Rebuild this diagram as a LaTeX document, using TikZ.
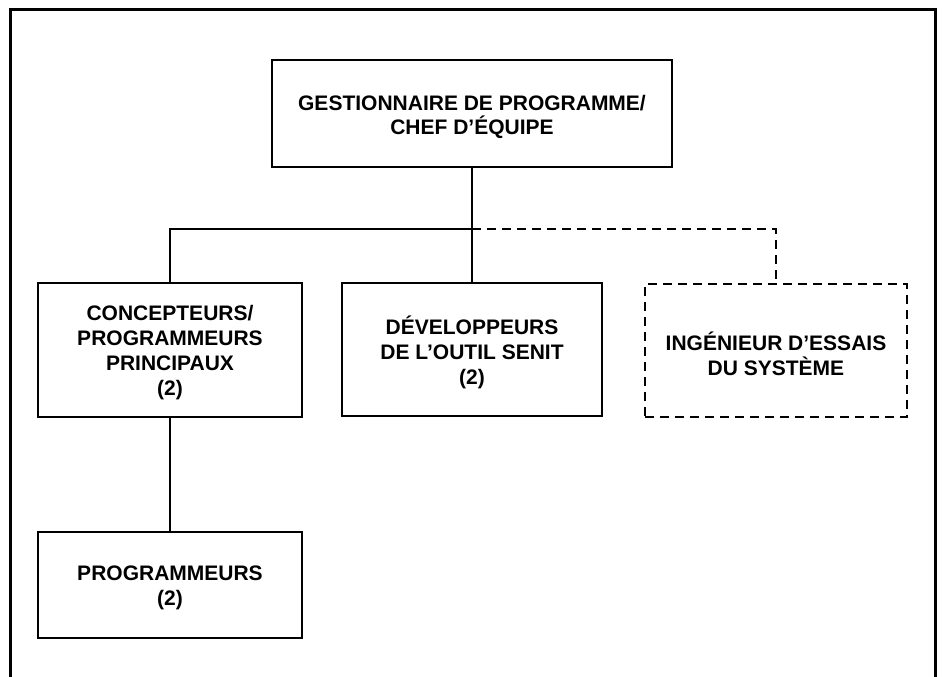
\documentclass[tikz,border=0pt]{standalone}
\usepackage{fontspec}
\setmainfont{Liberation Sans}
\begin{document}
\begin{tikzpicture}[x=1pt,y=-1pt,
  box/.style={draw, line width=1.8pt, inner sep=0pt},
  dbox/.style={box, dash pattern=on 9pt off 6pt},
  txt/.style={inner sep=0pt, align=center, yshift=-3pt,
    font=\fontsize{21}{25}\selectfont\bfseries},
  link/.style={line width=1.8pt},
  dlink/.style={line width=1.8pt, dash pattern=on 9pt off 6pt}]
\useasboundingbox (0,0) rectangle (942,677);
\fill[white] (0,0) rectangle (942,677);
% outer frame, open at the bottom
\draw[line width=3pt] (10,677) -- (10,10) -- (935,10) -- (935,677);
\node[box, minimum width=400pt, minimum height=107pt] (top) at (472,113.5) {};
\node[box, minimum width=264pt, minimum height=134pt] (lead) at (170,350) {};
\node[box, minimum width=260pt, minimum height=133pt] (dev) at (472,349.5) {};
\node[dbox, minimum width=262pt, minimum height=133pt] (test) at (776,350.5) {};
\node[box, minimum width=264pt, minimum height=106pt] (prog) at (170,585) {};
\node[txt, font=\fontsize{21}{24}\selectfont\bfseries] (topT) at (top) {GESTIONNAIRE DE PROGRAMME/\\CHEF D’ÉQUIPE};
\node[txt] (leadT) at (lead) {CONCEPTEURS/\\PROGRAMMEURS\\PRINCIPAUX\\(2)};
\node[txt] (devT) at (dev) {DÉVELOPPEURS\\DE L’OUTIL SENIT\\(2)};
\node[txt] (testT) at (test) {INGÉNIEUR D’ESSAIS\\DU SYSTÈME};
\node[txt] (progT) at (prog) {PROGRAMMEURS\\(2)};
\coordinate (bar) at (472,229);
\draw[link] (top.south) -- (dev.north);
\draw[link] (lead.north) |- (bar);
\draw[dlink] (bar) -| (test.north);
\draw[link] (lead.south) -- (prog.north);
\end{tikzpicture}
\end{document}
